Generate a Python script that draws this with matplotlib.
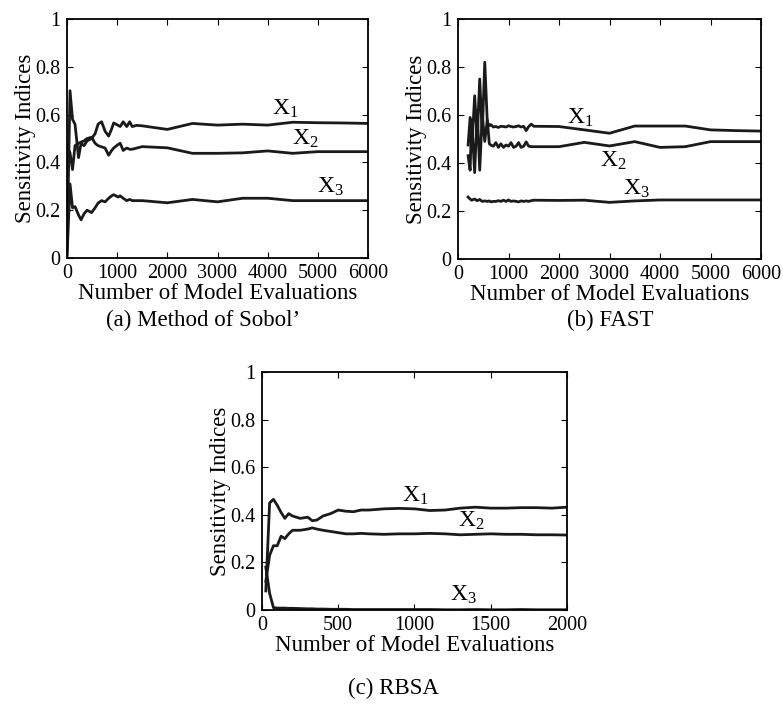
import matplotlib
matplotlib.use("Agg")
import matplotlib.pyplot as plt

plt.rcParams['font.family'] = ['Liberation Serif', 'DejaVu Serif']
plt.rcParams['mathtext.default'] = 'regular'
plt.rcParams['font.size'] = 14.5

# (a) Method of Sobol'
sobol_n = [0, 60, 110, 160, 230, 280, 340, 400, 490, 560, 620, 690, 760, 830, 890, 930,
           1020, 1060, 1120, 1190, 1250, 1300, 1390, 1500, 2000, 2500, 3000, 3500, 4000,
           4500, 5000, 5500, 6000]
sobol_x1 = [0.02, 0.70, 0.58, 0.56, 0.42, 0.48, 0.47, 0.49, 0.50, 0.52, 0.56, 0.57, 0.53,
            0.51, 0.54, 0.565, 0.555, 0.55, 0.57, 0.55, 0.57, 0.55, 0.555, 0.553, 0.538,
            0.563, 0.556, 0.56, 0.556, 0.568, 0.566, 0.565, 0.563]
sobol_x2 = [0.47, 0.44, 0.37, 0.47, 0.48, 0.485, 0.49, 0.50, 0.505, 0.48, 0.47, 0.465, 0.46,
            0.43, 0.45, 0.46, 0.475, 0.48, 0.45, 0.46, 0.455, 0.455, 0.46, 0.466, 0.461,
            0.438, 0.438, 0.44, 0.448, 0.438, 0.445, 0.445, 0.445]
sobol_x3 = [0.0, 0.31, 0.21, 0.215, 0.18, 0.16, 0.185, 0.20, 0.19, 0.21, 0.23, 0.24, 0.235,
            0.25, 0.26, 0.265, 0.255, 0.26, 0.25, 0.24, 0.245, 0.24, 0.24, 0.24, 0.231,
            0.245, 0.235, 0.25, 0.25, 0.24, 0.24, 0.24, 0.24]

# (b) FAST
fast_n = [200, 240, 270, 330, 380, 430, 480, 530, 580, 620, 650, 700, 750, 800, 850, 900,
          950, 1000, 1050, 1100, 1150, 1200, 1250, 1300, 1350, 1400, 1450, 1500, 2000,
          2500, 3000, 3500, 4000, 4500, 5000, 5500, 6000]
fast_x1 = [0.475, 0.59, 0.45, 0.68, 0.50, 0.75, 0.52, 0.82, 0.57, 0.555, 0.56, 0.55, 0.552,
           0.548, 0.553, 0.552, 0.55, 0.555, 0.552, 0.55, 0.552, 0.555, 0.55, 0.553, 0.535,
           0.552, 0.562, 0.553, 0.552, 0.538, 0.524, 0.554, 0.554, 0.554, 0.538, 0.535, 0.533]
fast_x2 = [0.43, 0.37, 0.58, 0.36, 0.62, 0.37, 0.60, 0.49, 0.58, 0.48, 0.475, 0.47, 0.485,
           0.465, 0.48, 0.465, 0.475, 0.47, 0.485, 0.465, 0.47, 0.485, 0.465, 0.47, 0.488,
           0.47, 0.468, 0.468, 0.468, 0.486, 0.471, 0.489, 0.465, 0.468, 0.489, 0.489, 0.489]
fast_x3 = [0.258, 0.25, 0.245, 0.25, 0.243, 0.248, 0.24, 0.242, 0.24, 0.242, 0.238, 0.24,
           0.24, 0.243, 0.24, 0.245, 0.24, 0.246, 0.24, 0.242, 0.24, 0.238, 0.242, 0.24,
           0.242, 0.24, 0.243, 0.245, 0.244, 0.245, 0.236, 0.242, 0.246, 0.246, 0.246,
           0.246, 0.246]

# (c) RBSA
rbsa_n = [25, 50, 75, 100, 125, 150, 175, 200, 250, 300, 330, 360, 400, 450, 500, 550, 600,
          650, 700, 800, 900, 1000, 1100, 1200, 1300, 1400, 1500, 1600, 1700, 1800, 1900, 2000]
rbsa_x1 = [0.08, 0.45, 0.465, 0.44, 0.41, 0.385, 0.405, 0.395, 0.385, 0.39, 0.375, 0.378,
           0.395, 0.405, 0.42, 0.415, 0.413, 0.42, 0.42, 0.425, 0.427, 0.425, 0.418, 0.42,
           0.428, 0.432, 0.428, 0.428, 0.43, 0.43, 0.428, 0.432]
rbsa_x2 = [0.12, 0.23, 0.27, 0.27, 0.31, 0.30, 0.32, 0.335, 0.335, 0.34, 0.345, 0.34, 0.335,
           0.33, 0.325, 0.32, 0.32, 0.322, 0.32, 0.318, 0.32, 0.32, 0.322, 0.32, 0.316,
           0.318, 0.32, 0.318, 0.318, 0.316, 0.316, 0.315]
rbsa_x3 = [0.18, 0.07, 0.01, 0.008, 0.008, 0.008, 0.007, 0.007, 0.006, 0.005, 0.005, 0.004,
           0.004, 0.003, 0.003, 0.003, 0.002, 0.002, 0.002, 0.002, 0.002, 0.002, 0.002,
           0.001, 0.001, 0.002, 0.001, 0.001, 0.002, 0.001, 0.001, 0.001]

yticks = [0, 0.2, 0.4, 0.6, 0.8, 1]
ytick_labels = ['0', '0.2', '0.4', '0.6', '0.8', '1']

W, H = 783, 704
fig = plt.figure(figsize=(W / 100, H / 100), dpi=100)


def make_axes(l, t, r, b):
    return fig.add_axes([l / W, 1 - b / H, (r - l) / W, (b - t) / H])


def style(ax, xmax, xticks):
    ax.set_xlim(0, xmax)
    ax.set_ylim(0, 1)
    ax.set_xticks(xticks)
    ax.set_xticklabels([str(v) for v in xticks])
    ax.set_yticks(yticks)
    ax.set_yticklabels(ytick_labels)
    ax.tick_params(direction='in', top=True, right=True, length=4, width=0.8)
    ax.tick_params(axis='x', pad=4)
    ax.tick_params(axis='y', pad=5)
    for s in ax.spines.values():
        s.set_linewidth(1.3)
    ax.set_xlabel('Number of Model Evaluations', fontsize=16.5, labelpad=0)
    ax.set_ylabel('Sensitivity Indices', fontsize=16.5, labelpad=-1)


lw = 2.0
lab = 17
ax = make_axes(67, 19, 368, 258)
ax.plot(sobol_n, sobol_x1, color='#1a1a1a', lw=lw)
ax.plot(sobol_n, sobol_x2, color='#1a1a1a', lw=lw)
ax.plot(sobol_n, sobol_x3, color='#1a1a1a', lw=lw)
ax.text(4080, 0.6, 'X$_1$', fontsize=lab)
ax.text(4480, 0.475, 'X$_2$', fontsize=lab)
ax.text(4980, 0.275, 'X$_3$', fontsize=lab)
style(ax, 6000, [0, 1000, 2000, 3000, 4000, 5000, 6000])

ax = make_axes(458, 19, 761, 259)
ax.plot(fast_n, fast_x1, color='#1a1a1a', lw=lw)
ax.plot(fast_n, fast_x2, color='#1a1a1a', lw=lw)
ax.plot(fast_n, fast_x3, color='#1a1a1a', lw=lw)
ax.text(2160, 0.565, 'X$_1$', fontsize=lab)
ax.text(2810, 0.385, 'X$_2$', fontsize=lab)
ax.text(3270, 0.27, 'X$_3$', fontsize=lab)
style(ax, 6000, [0, 1000, 2000, 3000, 4000, 5000, 6000])

ax = make_axes(262, 372, 567, 610)
ax.plot(rbsa_n, rbsa_x1, color='#1a1a1a', lw=lw)
ax.plot(rbsa_n, rbsa_x2, color='#1a1a1a', lw=lw)
ax.plot(rbsa_n, rbsa_x3, color='#1a1a1a', lw=lw)
ax.text(918, 0.457, 'X$_1$', fontsize=lab)
ax.text(1285, 0.352, 'X$_2$', fontsize=lab)
ax.text(1233, 0.037, 'X$_3$', fontsize=lab)
style(ax, 2000, [0, 500, 1000, 1500, 2000])

fig.text(203 / W, 1 - 320 / H, "(a) Method of Sobol\u2019", ha='center', va='center', fontsize=16.5)
fig.text(610 / W, 1 - 320 / H, "(b) FAST", ha='center', va='center', fontsize=16.5)
fig.text(393 / W, 1 - 688 / H, "(c) RBSA", ha='center', va='center', fontsize=16.5)

fig.savefig('out.png', dpi=100)
